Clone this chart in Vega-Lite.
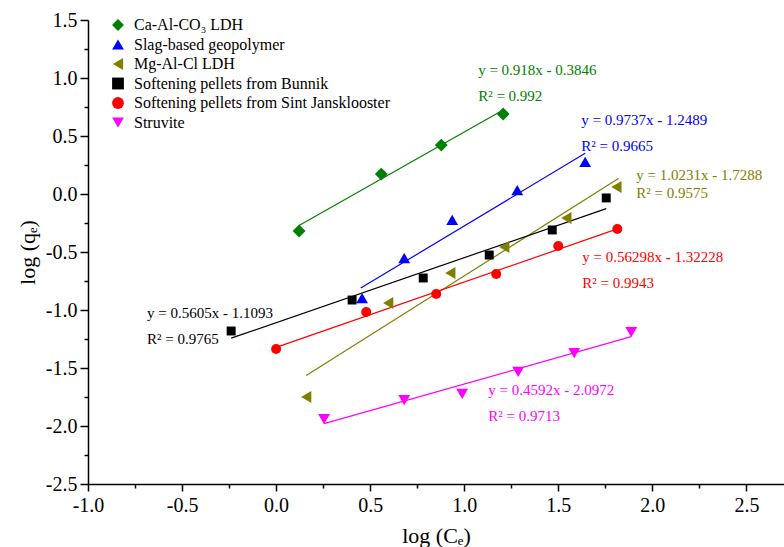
{
  "$schema": "https://vega.github.io/schema/vega-lite/v6.json",
  "width": 696,
  "height": 464,
  "autosize": {"type": "none"},
  "padding": {"left": 88, "top": 20, "right": 0, "bottom": 63},
  "background": "white",
  "config": {"view": {"stroke": null}, "font": "Liberation Serif"},
  "datasets": {
    "pts": [
      {"series": "Ca-Al-CO₃ LDH", "x": 0.122, "y": -0.319},
      {"series": "Ca-Al-CO₃ LDH", "x": 0.559, "y": 0.172},
      {"series": "Ca-Al-CO₃ LDH", "x": 0.878, "y": 0.422},
      {"series": "Ca-Al-CO₃ LDH", "x": 1.207, "y": 0.69},
      {"series": "Slag-based geopolymer", "x": 0.457, "y": -0.897},
      {"series": "Slag-based geopolymer", "x": 0.681, "y": -0.552},
      {"series": "Slag-based geopolymer", "x": 0.936, "y": -0.224},
      {"series": "Slag-based geopolymer", "x": 1.282, "y": 0.034},
      {"series": "Slag-based geopolymer", "x": 1.643, "y": 0.276},
      {"series": "Mg-Al-Cl LDH", "x": 0.16, "y": -1.75},
      {"series": "Mg-Al-Cl LDH", "x": 0.596, "y": -0.94},
      {"series": "Mg-Al-Cl LDH", "x": 0.926, "y": -0.681},
      {"series": "Mg-Al-Cl LDH", "x": 1.213, "y": -0.457},
      {"series": "Mg-Al-Cl LDH", "x": 1.543, "y": -0.207},
      {"series": "Mg-Al-Cl LDH", "x": 1.809, "y": 0.06},
      {"series": "Softening pellets from Bunnik", "x": -0.239, "y": -1.181},
      {"series": "Softening pellets from Bunnik", "x": 0.404, "y": -0.914},
      {"series": "Softening pellets from Bunnik", "x": 0.782, "y": -0.724},
      {"series": "Softening pellets from Bunnik", "x": 1.133, "y": -0.526},
      {"series": "Softening pellets from Bunnik", "x": 1.468, "y": -0.31},
      {"series": "Softening pellets from Bunnik", "x": 1.755, "y": -0.034},
      {"series": "Softening pellets from Sint Jansklooster", "x": 0.0, "y": -1.336},
      {"series": "Softening pellets from Sint Jansklooster", "x": 0.479, "y": -1.017},
      {"series": "Softening pellets from Sint Jansklooster", "x": 0.851, "y": -0.862},
      {"series": "Softening pellets from Sint Jansklooster", "x": 1.17, "y": -0.69},
      {"series": "Softening pellets from Sint Jansklooster", "x": 1.5, "y": -0.448},
      {"series": "Softening pellets from Sint Jansklooster", "x": 1.814, "y": -0.302},
      {"series": "Struvite", "x": 0.255, "y": -1.94},
      {"series": "Struvite", "x": 0.681, "y": -1.776},
      {"series": "Struvite", "x": 0.989, "y": -1.724},
      {"series": "Struvite", "x": 1.287, "y": -1.534},
      {"series": "Struvite", "x": 1.585, "y": -1.371},
      {"series": "Struvite", "x": 1.888, "y": -1.19}
    ],
    "fits": [
      {"series": "Ca-Al-CO₃ LDH", "x": 0.122, "y": -0.272},
      {"series": "Ca-Al-CO₃ LDH", "x": 1.207, "y": 0.724},
      {"series": "Slag-based geopolymer", "x": 0.45, "y": -0.811},
      {"series": "Slag-based geopolymer", "x": 1.643, "y": 0.351},
      {"series": "Mg-Al-Cl LDH", "x": 0.16, "y": -1.565},
      {"series": "Mg-Al-Cl LDH", "x": 1.82, "y": 0.133},
      {"series": "Softening pellets from Bunnik", "x": -0.239, "y": -1.243},
      {"series": "Softening pellets from Bunnik", "x": 1.755, "y": -0.126},
      {"series": "Softening pellets from Sint Jansklooster", "x": 0.0, "y": -1.322},
      {"series": "Softening pellets from Sint Jansklooster", "x": 1.814, "y": -0.301},
      {"series": "Struvite", "x": 0.255, "y": -1.98},
      {"series": "Struvite", "x": 1.888, "y": -1.23}
    ],
    "ann": [
      {"series": "Ca-Al-CO₃ LDH", "x": 1.074, "y": 1.069, "label": "y = 0.918x - 0.3846"},
      {"series": "Ca-Al-CO₃ LDH", "x": 1.074, "y": 0.845, "label": "R² = 0.992"},
      {"series": "Slag-based geopolymer", "x": 1.622, "y": 0.638, "label": "y = 0.9737x - 1.2489"},
      {"series": "Slag-based geopolymer", "x": 1.622, "y": 0.414, "label": "R² = 0.9665"},
      {"series": "Mg-Al-Cl LDH", "x": 1.915, "y": 0.164, "label": "y = 1.0231x - 1.7288"},
      {"series": "Mg-Al-Cl LDH", "x": 1.915, "y": 0.009, "label": "R² = 0.9575"},
      {"series": "Softening pellets from Sint Jansklooster", "x": 1.628, "y": -0.543, "label": "y = 0.56298x - 1.32228"},
      {"series": "Softening pellets from Sint Jansklooster", "x": 1.628, "y": -0.767, "label": "R² = 0.9943"},
      {"series": "Softening pellets from Bunnik", "x": -0.686, "y": -1.026, "label": "y = 0.5605x - 1.1093"},
      {"series": "Softening pellets from Bunnik", "x": -0.686, "y": -1.25, "label": "R² = 0.9765"},
      {"series": "Struvite", "x": 1.128, "y": -1.69, "label": "y = 0.4592x - 2.0972"},
      {"series": "Struvite", "x": 1.128, "y": -1.914, "label": "R² = 0.9713"}
    ]
  },
  "encoding": {
    "x": {
      "field": "x", "type": "quantitative",
      "scale": {"domain": [-1, 2.7], "nice": false, "zero": false},
      "axis": {
        "values": [-1, -0.75, -0.5, -0.25, 0, 0.25, 0.5, 0.75, 1, 1.25, 1.5, 1.75, 2, 2.25, 2.5],
        "labelExpr": "datum.value % 0.5 === 0 ? replace(format(datum.value, '.1f'), '\u2212', '-') : ''",
        "tickSize": {"condition": {"test": "datum.value % 0.5 === 0", "value": 7}, "value": 4},
        "title": "log (Cₑ)",
        "grid": false, "labelOverlap": false, "labelFlush": false, "labelBound": false,
        "domainColor": "black", "domainWidth": 1.5, "tickColor": "black", "tickWidth": 1.5,
        "labelFont": "Liberation Serif", "labelFontSize": 20, "labelColor": "black", "labelPadding": 4,
        "titleFont": "Liberation Serif", "titleFontSize": 22, "titleFontWeight": "normal", "titleColor": "black", "titlePadding": 10
      }
    },
    "y": {
      "field": "y", "type": "quantitative",
      "scale": {"domain": [-2.5, 1.5], "nice": false, "zero": false},
      "axis": {
        "values": [-2.5, -2.25, -2, -1.75, -1.5, -1.25, -1, -0.75, -0.5, -0.25, 0, 0.25, 0.5, 0.75, 1, 1.25, 1.5],
        "labelExpr": "datum.value % 0.5 === 0 ? replace(format(datum.value, '.1f'), '\u2212', '-') : ''",
        "tickSize": {"condition": {"test": "datum.value % 0.5 === 0", "value": 8}, "value": 4},
        "title": "log (qₑ)",
        "grid": false, "labelOverlap": false, "labelFlush": false, "labelBound": false,
        "domainColor": "black", "domainWidth": 1.5, "tickColor": "black", "tickWidth": 1.5,
        "labelFont": "Liberation Serif", "labelFontSize": 20, "labelColor": "black", "labelPadding": 3,
        "titleFont": "Liberation Serif", "titleFontSize": 22, "titleFontWeight": "normal", "titleColor": "black", "titlePadding": 6
      }
    },
    "color": {
      "field": "series", "type": "nominal",
      "scale": {
        "domain": ["Ca-Al-CO₃ LDH", "Slag-based geopolymer", "Mg-Al-Cl LDH", "Softening pellets from Bunnik", "Softening pellets from Sint Jansklooster", "Struvite"],
        "range": ["#008000", "#0000FF", "#808000", "#000000", "#FF0000", "#FF00FF"]
      },
      "legend": {
        "orient": "none", "legendX": 22, "legendY": -3, "title": null,
        "labelFont": "Liberation Serif", "labelFontSize": 16, "labelColor": "black", "labelLimit": 500,
        "symbolSize": 140, "rowPadding": 3.5, "labelOffset": 8, "symbolStrokeWidth": 0,
        "symbolType": "circle"
      }
    }
  },
  "layer": [
    {
      "data": {"name": "fits"},
      "mark": {"type": "line", "strokeWidth": 1.2}
    },
    {
      "data": {"name": "pts"},
      "mark": {"type": "point", "filled": true, "opacity": 1, "strokeWidth": 0},
      "encoding": {
        "shape": {
          "field": "series", "type": "nominal",
          "scale": {
            "domain": ["Ca-Al-CO₃ LDH", "Slag-based geopolymer", "Mg-Al-Cl LDH", "Softening pellets from Bunnik", "Softening pellets from Sint Jansklooster", "Struvite"],
            "range": ["diamond", "triangle-up", "triangle-left", "square", "circle", "triangle-down"]
          },
          "legend": {
            "orient": "none", "legendX": 22, "legendY": -3, "title": null,
            "labelFont": "Liberation Serif", "labelFontSize": 16, "labelColor": "black", "labelLimit": 500,
            "symbolSize": 140, "rowPadding": 3.5, "labelOffset": 8, "symbolStrokeWidth": 0
          }
        },
        "size": {
          "condition": [
            {"test": "datum.series === 'Softening pellets from Bunnik'", "value": 80},
            {"test": "datum.series === 'Softening pellets from Sint Jansklooster'", "value": 100},
            {"test": "datum.series === 'Ca-Al-CO₃ LDH'", "value": 165}
          ],
          "value": 140
        }
      }
    },
    {
      "data": {"name": "ann"},
      "mark": {"type": "text", "align": "left", "baseline": "middle", "font": "Liberation Serif", "fontSize": 15},
      "encoding": {
        "text": {"field": "label"}
      }
    }
  ]
}
